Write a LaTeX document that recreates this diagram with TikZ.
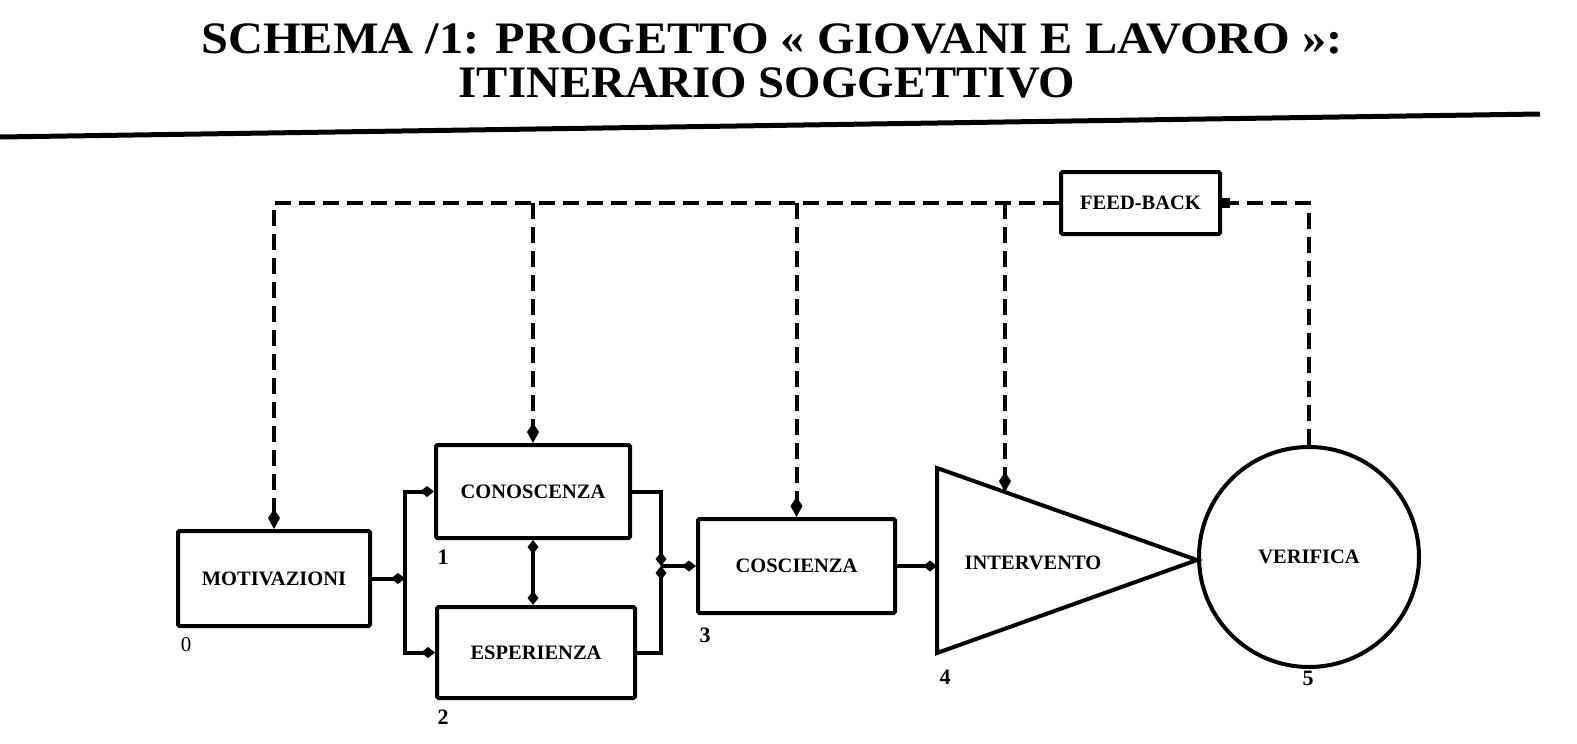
\documentclass[tikz,border=0pt]{standalone}
\usepackage{fontspec}
\setmainfont{Liberation Serif}
\usetikzlibrary{arrows.meta,calc}
\newcommand\boxfont{\fontsize{20.5}{22}\selectfont\bfseries}
\newcommand\titlefont{\fontsize{45}{48}\selectfont\bfseries}
\newcommand\numfont{\fontsize{22}{24}\selectfont\bfseries}
\begin{document}
\begin{tikzpicture}[x=1pt,y=-1pt,
  box/.style={draw, line width=4pt, rounded corners=1.5pt, inner sep=0pt, font=\boxfont},
  conn/.style={line width=4pt},
  tipb/.style={-{Kite[length=14pt,width=11pt,inset=7pt]}},
  fbline/.style={line width=4pt, dash pattern=on 16pt off 8pt},
  fbtip/.style={-{Kite[length=20pt,width=12pt,inset=9pt]}},
  sqtip/.style={-{Square[length=8pt,width=10pt]}},
  num/.style={inner sep=0pt, font=\numfont}]
\useasboundingbox (0,0) rectangle (1577,744);

% title
\node[anchor=base, inner sep=0pt] (t1) at (772,53) {\titlefont\scalebox{1.075}[1]{SCHEMA /1: PROGETTO « GIOVANI E LAVORO »:}};
\node[anchor=base, inner sep=0pt] (t2) at (767,97) {\titlefont\scalebox{1.04}[1]{ITINERARIO SOGGETTIVO}};
\coordinate (rl) at (0,137);
\coordinate (rr) at (1540,114);
\draw[line width=5pt] (rl) -- (rr);

% boxes
\node[box, minimum width=192pt, minimum height=95pt] (mot) at (274,578.5) {MOTIVAZIONI};
\node[box, minimum width=194pt, minimum height=93pt] (con) at (533,491.5) {CONOSCENZA};
\node[box, minimum width=198pt, minimum height=91pt] (esp) at (536,652.5) {ESPERIENZA};
\node[box, minimum width=197pt, minimum height=94pt] (cos) at (796.5,566) {COSCIENZA};
\node[box, minimum width=159pt, minimum height=62pt] (fb) at (1140.5,203) {FEED-BACK};
\node[box, circle, minimum size=220pt] (ver) at (1309,557) {VERIFICA};

% triangle
\coordinate (tA) at (937,468);
\coordinate (tB) at (937,653);
\coordinate (tC) at (1197,560);
\draw[line width=4pt, line join=miter] (tA) -- (tC) -- (tB) -- cycle;
\node[inner sep=0pt, font=\boxfont] (int) at (1033,563) {INTERVENTO};
\coordinate (ttop) at ($(tA)!0.2615!(tC)$);

% numbers
\node[num, font=\fontsize{21}{22}\selectfont] (n0) at (186,645) {0};
\node[num] (n1) at (443,557) {1};
\node[num] (n2) at (443,717) {2};
\node[num] (n3) at (705,635) {3};
\node[num] (n4) at (945,677) {4};
\node[num] (n5) at (1308,678) {5};

% solid connectors
\coordinate (jL) at ($(mot.east)+(33,0)$);
\coordinate (jR) at ($(cos.west)+(-35,0)$);
\draw[conn, tipb] (mot.east) -- (jL);
\draw[conn, tipb] (jL) |- (con.west);
\draw[conn, tipb] (jL) |- (esp.west);
\draw[conn, {Kite[length=14pt,width=11pt,inset=7pt]}-{Kite[length=14pt,width=11pt,inset=7pt]}] (con.south) -- (con.south |- esp.north);
\draw[conn, tipb] (con.east) -| (jR);
\draw[conn, tipb] (esp.east) -| (jR);
\draw[conn, tipb] (jR) -- (cos.west);
\draw[conn, tipb] (cos.east) -- (tA |- cos.east);

% feedback (dashed)
\draw[fbline, fbtip] (fb.west) -| (mot.north);
\draw[fbline, fbtip] (con.north |- fb.west) -- (con.north);
\draw[fbline, fbtip] (cos.north |- fb.west) -- (cos.north);
\draw[fbline, fbtip] (ttop |- fb.west) -- (ttop);
\draw[fbline, sqtip] (ver.north) |- (fb.east);
\end{tikzpicture}
\end{document}
